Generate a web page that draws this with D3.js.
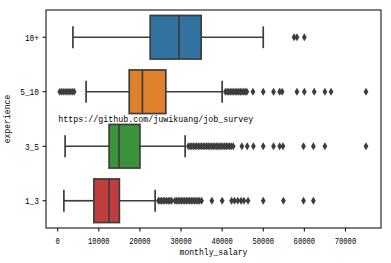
<!DOCTYPE html>
<html><head><meta charset="utf-8">
<script src="https://cdn.jsdelivr.net/npm/d3@7"></script>
<style>body{margin:0;background:#fff}</style>
</head><body>
<script>
const categories = ["10+", "5_10", "3_5", "1_3"];
const colors = ["#3274a1", "#e1812c", "#3a923a", "#c03d3e"];
const whiskerLow = [3700, 6900, 1800, 1500];
const q1 = [22500, 17400, 12500, 8800];
const medians = [29500, 20600, 14900, 12500];
const q3 = [34900, 26300, 20000, 15000];
const whiskerHigh = [50000, 40000, 31000, 23700];
const outliers10 = [57500, 58200, 60000];
const outliers5_10 = [500, 1000, 1500, 2000, 2500, 3000, 3500, 4000, 40800, 41200, 41600, 42000, 42400, 42800, 43200, 43600, 44000, 44400, 44800, 45200, 45600, 46000, 47500, 50000, 52500, 54000, 54600, 58200, 60000, 62400, 65000, 66500, 75000];
const outliers3_5 = [31800, 32200, 32600, 33000, 33400, 33800, 34200, 34600, 35000, 35400, 35800, 36200, 36600, 37000, 37400, 37800, 38200, 38600, 39000, 39400, 39800, 40200, 40600, 41000, 41400, 41800, 42200, 42700, 44800, 46100, 47600, 50000, 52500, 54000, 54800, 59800, 62200, 65000, 75000];
const outliers1_3 = [24500, 24900, 25300, 25700, 26100, 26500, 26900, 27300, 27700, 28500, 28900, 29300, 29700, 30100, 30500, 30900, 31300, 31700, 32100, 32500, 32900, 33300, 33700, 34100, 34500, 35000, 37500, 40000, 42300, 43000, 43800, 44600, 45300, 46300, 50000, 54900, 59800, 62200];
const outliers = [outliers10, outliers5_10, outliers3_5, outliers1_3];
const xTicks = [0, 10000, 20000, 30000, 40000, 50000, 60000, 70000];
const xLabel = "monthly_salary";
const yLabel = "experience";
const note = "https://github.com/juwikuang/job_survey";

const W = 391, H = 263;
const L = 46, T = 10, R = 381, B = 228;
const mono = "'Liberation Mono','DejaVu Sans Mono',monospace";
const gray = "#3d3d3d";
const fs = 9.5;

const svg = d3.select("body").append("svg").attr("width", W).attr("height", H);
const x = d3.scaleLinear().domain([-2850, 78650]).range([L, R]);
const y = d3.scaleBand().domain(categories).range([T, B]).paddingInner(0.2).paddingOuter(0.1);
const bw = y.bandwidth();

const g = svg.append("g");
categories.forEach((c, i) => {
  const cy = y(c) + bw / 2;
  g.append("line").attr("x1", x(whiskerLow[i])).attr("x2", x(q1[i])).attr("y1", cy).attr("y2", cy).attr("stroke", gray).attr("stroke-width", 1.7);
  g.append("line").attr("x1", x(q3[i])).attr("x2", x(whiskerHigh[i])).attr("y1", cy).attr("y2", cy).attr("stroke", gray).attr("stroke-width", 1.7);
  [whiskerLow[i], whiskerHigh[i]].forEach(v => {
    g.append("line").attr("x1", x(v)).attr("x2", x(v)).attr("y1", cy - bw / 4).attr("y2", cy + bw / 4).attr("stroke", gray).attr("stroke-width", 1.7);
  });
  g.append("rect").attr("x", x(q1[i])).attr("y", y(c)).attr("width", x(q3[i]) - x(q1[i])).attr("height", bw)
    .attr("fill", colors[i]).attr("stroke", gray).attr("stroke-width", 1.7);
  g.append("line").attr("x1", x(medians[i])).attr("x2", x(medians[i])).attr("y1", y(c)).attr("y2", y(c) + bw).attr("stroke", gray).attr("stroke-width", 1.7);
  g.selectAll(null).data(outliers[i]).enter().append("path")
    .attr("d", d => `M${x(d)},${cy - 3.9}L${x(d) + 2.4},${cy}L${x(d)},${cy + 3.9}L${x(d) - 2.4},${cy}Z`)
    .attr("fill", gray);
});

svg.append("rect").attr("x", L).attr("y", T).attr("width", R - L).attr("height", B - T)
  .attr("fill", "none").attr("stroke", "#000").attr("stroke-width", 1);

const xa = svg.append("g");
xTicks.forEach(t => {
  xa.append("line").attr("x1", x(t)).attr("x2", x(t)).attr("y1", B).attr("y2", B + 3.5).attr("stroke", "#000");
  xa.append("text").attr("x", x(t)).attr("y", 243.5).attr("text-anchor", "middle")
    .attr("font-family", mono).attr("font-size", fs).attr("fill", "#000").text(String(t))
    .attr("textLength", String(t).length * 4.3).attr("lengthAdjust", "spacingAndGlyphs");
});
categories.forEach(c => {
  const cy = y(c) + bw / 2;
  svg.append("line").attr("x1", L - 3.5).attr("x2", L).attr("y1", cy).attr("y2", cy).attr("stroke", "#000");
  svg.append("text").attr("x", L - 7).attr("y", cy + 3.3).attr("text-anchor", "end")
    .attr("font-family", mono).attr("font-size", fs).attr("fill", "#000").text(c)
    .attr("textLength", c.length * 4.7).attr("lengthAdjust", "spacingAndGlyphs");
});

svg.append("text").attr("x", (L + R) / 2).attr("y", 254.5).attr("text-anchor", "middle")
  .attr("font-family", mono).attr("font-size", fs).attr("fill", "#000").text(xLabel)
  .attr("textLength", xLabel.length * 4.85).attr("lengthAdjust", "spacingAndGlyphs");
svg.append("text").attr("transform", `translate(10,${(T + B) / 2}) rotate(-90)`).attr("text-anchor", "middle")
  .attr("font-family", mono).attr("font-size", fs).attr("fill", "#000").text(yLabel)
  .attr("textLength", yLabel.length * 4.85).attr("lengthAdjust", "spacingAndGlyphs");
svg.append("text").attr("x", 58.3).attr("y", 121.5).attr("text-anchor", "start")
  .attr("font-family", mono).attr("font-size", fs).attr("fill", "#000").text(note)
  .attr("textLength", note.length * 5).attr("lengthAdjust", "spacingAndGlyphs");
</script>
</body></html>
